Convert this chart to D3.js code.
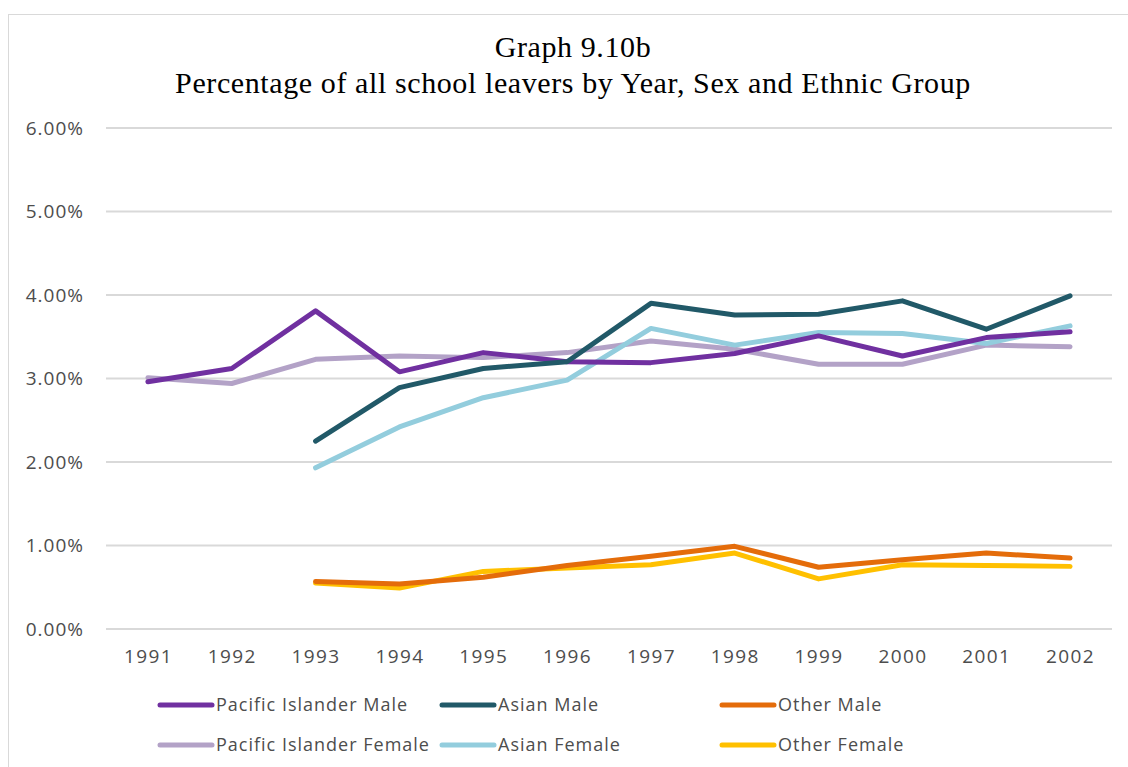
<!DOCTYPE html>
<html>
<head>
<meta charset="utf-8">
<script src="https://cdn.jsdelivr.net/npm/d3@7"></script>
<style>
  body { margin: 0; background: #fff; }
  svg { display: block; }
</style>
</head>
<body>
<div id="graph"></div>
<script>
// data (percent of all school leavers)
var years = ["1991","1992","1993","1994","1995","1996","1997","1998","1999","2000","2001","2002"];
var piMale   = [2.96, 3.12, 3.81, 3.08, 3.31, 3.20, 3.19, 3.30, 3.51, 3.27, 3.49, 3.56];
var piFemale = [3.01, 2.94, 3.23, 3.27, 3.25, 3.31, 3.45, 3.35, 3.17, 3.17, 3.40, 3.38];
var asMale   = [null, null, 2.25, 2.89, 3.12, 3.20, 3.90, 3.76, 3.77, 3.93, 3.59, 3.99];
var asFemale = [null, null, 1.93, 2.42, 2.77, 2.98, 3.60, 3.40, 3.55, 3.54, 3.42, 3.63];
var otMale   = [null, null, 0.57, 0.54, 0.62, 0.76, 0.87, 0.99, 0.74, 0.83, 0.91, 0.85];
var otFemale = [null, null, 0.55, 0.49, 0.69, 0.73, 0.77, 0.91, 0.60, 0.77, 0.76, 0.75];
var yTicks = [0, 1, 2, 3, 4, 5, 6];

var series = [
  {name: "Pacific Islander Male",   values: piMale,   color: "#7030a0"},
  {name: "Asian Male",              values: asMale,   color: "#215968"},
  {name: "Other Male",              values: otMale,   color: "#e46c0a"},
  {name: "Pacific Islander Female", values: piFemale, color: "#b3a2c7"},
  {name: "Asian Female",            values: asFemale, color: "#93cddd"},
  {name: "Other Female",            values: otFemale, color: "#ffc000"}
];
// draw order: females underneath where lines overlap
var drawOrder = [3, 4, 5, 2, 0, 1];

var w = 1128, h = 767;
var plotLeft = 106, plotRight = 1112, plotTop = 128, plotBottom = 629;

var svg = d3.select("#graph").append("svg")
  .attr("width", w)
  .attr("height", h);

// chart frame
svg.append("rect")
  .attr("x", 8.5).attr("y", 14.5)
  .attr("width", 1130).attr("height", 770)
  .attr("fill", "none")
  .attr("stroke", "#d9d9d9")
  .attr("stroke-width", 1);

var x = d3.scalePoint().domain(years).range([plotLeft, plotRight]).padding(0.5);
var y = d3.scaleLinear().domain([0, 6]).range([plotBottom, plotTop]);

// gridlines
svg.append("g")
  .selectAll("line")
  .data(yTicks)
  .enter()
  .append("line")
  .attr("x1", plotLeft).attr("x2", plotRight)
  .attr("y1", function(d) { return y(d); })
  .attr("y2", function(d) { return y(d); })
  .attr("stroke", "#d9d9d9")
  .attr("stroke-width", 2);

var font = "'Open Sans', 'Noto Sans', sans-serif";
var textColor = "#4d4d4d";

// y axis
var yAxis = svg.append("g")
  .attr("transform", "translate(" + (plotLeft - 22) + ",0)")
  .call(d3.axisLeft(y).tickValues(yTicks).tickSize(0).tickPadding(0)
    .tickFormat(function(d) { return d.toFixed(2) + "%"; }));
yAxis.select(".domain").remove();
yAxis.selectAll("text")
  .attr("fill", textColor)
  .style("font-family", font)
  .style("font-size", "19px")
  .style("letter-spacing", "1px");

// x axis
var xAxis = svg.append("g")
  .attr("transform", "translate(0," + (plotBottom + 14) + ")")
  .call(d3.axisBottom(x).tickSize(0).tickPadding(6));
xAxis.select(".domain").remove();
xAxis.selectAll("text")
  .attr("fill", textColor)
  .style("font-family", font)
  .style("font-size", "19px")
  .style("letter-spacing", "1.4px");

// lines
var line = d3.line()
  .defined(function(d) { return d != null; })
  .x(function(d, i) { return x(years[i]); })
  .y(function(d) { return y(d); });

svg.append("g")
  .selectAll("path")
  .data(drawOrder.map(function(i) { return series[i]; }))
  .enter()
  .append("path")
  .attr("d", function(d) { return line(d.values); })
  .attr("fill", "none")
  .attr("stroke", function(d) { return d.color; })
  .attr("stroke-width", 5)
  .attr("stroke-linejoin", "round")
  .attr("stroke-linecap", "round");

// title
var title = svg.append("text")
  .attr("text-anchor", "middle")
  .attr("fill", "#000")
  .style("font-family", "'Liberation Serif', 'Times New Roman', serif")
  .style("font-size", "30px")
  .style("letter-spacing", "0.6px");
title.append("tspan").attr("x", 573).attr("y", 57).text("Graph 9.10b");
title.append("tspan").attr("x", 573).attr("y", 93).text("Percentage of all school leavers by Year, Sex and Ethnic Group");

// legend
var legX = [158, 440, 720], legY = [705, 745];
var leg = svg.append("g")
  .selectAll("g")
  .data(series)
  .enter()
  .append("g")
  .attr("transform", function(d, i) {
    return "translate(" + legX[i % 3] + "," + legY[Math.floor(i / 3)] + ")";
  });
leg.append("line")
  .attr("x1", 2).attr("x2", 54)
  .attr("y1", 0).attr("y2", 0)
  .attr("stroke", function(d) { return d.color; })
  .attr("stroke-width", 5)
  .attr("stroke-linecap", "round");
leg.append("text")
  .attr("x", 58).attr("y", 6)
  .attr("fill", textColor)
  .style("font-family", font)
  .style("font-size", "18px")
  .style("letter-spacing", "1px")
  .text(function(d) { return d.name; });
</script>
</body>
</html>
